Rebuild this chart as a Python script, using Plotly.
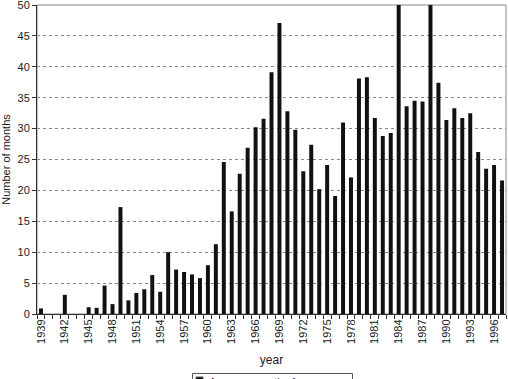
import plotly.graph_objects as go

years = list(range(1939, 1998))
months = [
    0.9, 0, 0, 3.1, 0, 0, 1.1, 1.0, 4.6, 1.6,      # 1939-1948
    17.3, 2.2, 3.4, 4.0, 6.3, 3.6, 10.0, 7.2, 6.8, 6.4,  # 1949-1958
    5.8, 7.9, 11.3, 24.6, 16.6, 22.7, 26.9, 30.2, 31.6, 39.1,  # 1959-1968
    47.1, 32.8, 29.8, 23.1, 27.4, 20.2, 24.1, 19.1, 31.0, 22.1,  # 1969-1978
    38.1, 38.3, 31.7, 28.8, 29.3, 51.0, 33.6, 34.5, 34.4, 52.0,  # 1979-1988
    37.4, 31.4, 33.3, 31.7, 32.5, 26.2, 23.5, 24.1, 21.6,  # 1989-1997
]
tick_years = list(range(1939, 1997, 3))
tick_labels = [str(y) for y in tick_years]
y_ticks = list(range(0, 51, 5))
legend_label = "Average months for a year"

W, H = 508, 379
ML, MR, MT, MB = 37, 2, 5, 65
pw, ph = W - ML - MR, H - MT - MB


def px_x(px):
    return (px - ML) / pw


def px_y(py):
    return (H - MB - py) / ph


fig = go.Figure()
fig.add_trace(go.Bar(
    x=years, y=months, name=legend_label,
    marker=dict(color="#111111", line=dict(width=0)),
    showlegend=False,
))

font = dict(family="Arial, Liberation Sans, sans-serif", size=11, color="#222222")

shapes = [
    dict(type="rect", xref="paper", yref="paper", x0=0, x1=1, y0=0, y1=1,
         line=dict(color="#888888", width=1), layer="below"),
    # legend box
    dict(type="rect", xref="paper", yref="paper",
         x0=px_x(192.5), x1=px_x(352.5), y0=px_y(392), y1=px_y(373.5),
         line=dict(color="#555555", width=1), fillcolor="white", layer="above"),
    # legend swatch
    dict(type="rect", xref="paper", yref="paper",
         x0=px_x(196), x1=px_x(203), y0=px_y(384), y1=px_y(377),
         line=dict(color="#555555", width=1), fillcolor="#111111", layer="above"),
]

annotations = [
    dict(text=legend_label, xref="paper", yref="paper",
         x=px_x(207), y=px_y(374), xanchor="left", yanchor="top",
         showarrow=False, font=dict(size=11, color="#222222")),
]

fig.update_layout(
    width=W, height=H,
    margin=dict(l=ML, r=MR, t=MT, b=MB),
    paper_bgcolor="white", plot_bgcolor="white",
    font=font,
    bargap=0.5,
    showlegend=False,
    shapes=shapes,
    annotations=annotations,
)

fig.update_xaxes(
    range=[1938.5, 1997.5],
    tickmode="array", tickvals=tick_years, ticktext=tick_labels,
    tickangle=-90, ticks="", ticklen=0,
    minor=dict(tickmode="linear", tick0=1938.5, dtick=1, ticks="outside",
               ticklen=4, tickcolor="#333333", showgrid=False),
    showline=True, linecolor="#333333", linewidth=1,
    showgrid=False, zeroline=False, automargin=False,
    ticklabeloverflow="allow",
    title=dict(text="year", font=dict(size=12), standoff=12),
    tickfont=dict(size=11),
)
fig.update_yaxes(
    range=[0, 50], tickmode="array", tickvals=y_ticks,
    ticks="outside", ticklen=4, tickcolor="#333333",
    showline=True, linecolor="#333333", linewidth=1,
    showgrid=True, gridcolor="#888888", griddash="dot", gridwidth=1,
    zeroline=False, automargin=False,
    ticklabeloverflow="allow",
    title=dict(text="Number of months", font=dict(size=11), standoff=6),
    tickfont=dict(size=11),
)

fig.write_html("out.html")
